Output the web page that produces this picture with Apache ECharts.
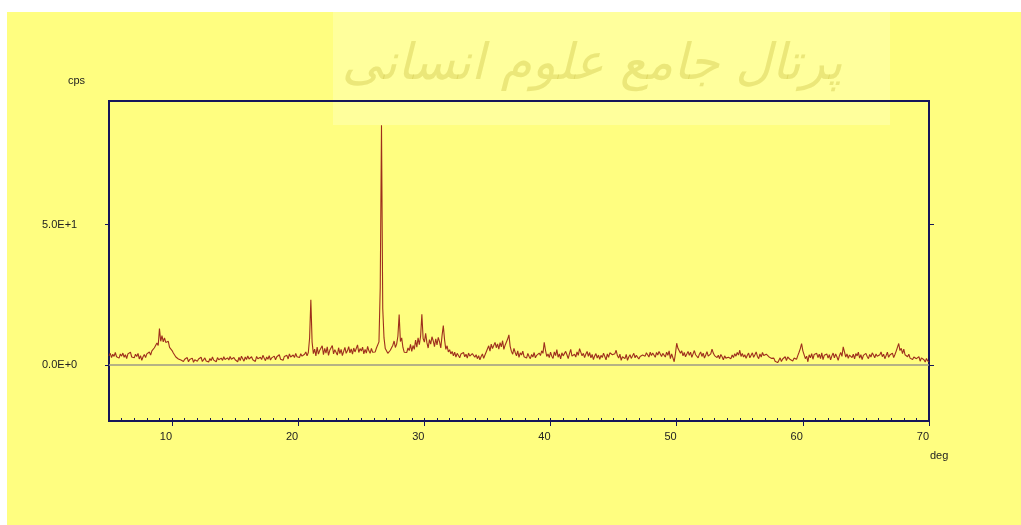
<!DOCTYPE html>
<html>
<head>
<meta charset="utf-8">
<title>XRD pattern</title>
<script src="https://cdn.jsdelivr.net/npm/echarts@6/dist/echarts.min.js"></script>
<style>
  html, body { margin: 0; padding: 0; background: #ffffff; }
  #chart { width: 1021px; height: 525px; }
</style>
</head>
<body>
<div id="chart"></div>
<script>
// Scan range (2-theta, degrees) and step of the diffractogram
const scanStart = 5.0;
const scanStep = 0.1;

// Intensity in cps, one value per step, rows of one degree (x.0 .. x.9)
const cps = [
  3.2,4.1,2.6,3.8,3.0,4.4,2.9,3.5,2.4,3.9,   // 5
  3.1,4.2,2.7,3.6,2.2,3.9,3.3,4.5,2.8,3.4,   // 6
  2.5,3.8,3.0,4.1,2.1,3.3,1.6,2.9,3.7,2.6,   // 7
  3.9,3.2,4.6,3.5,5.0,4.4,6.1,5.6,7.8,6.9,   // 8
  12.9,8.4,10.4,8.2,9.6,8.0,7.3,8.4,6.2,5.6, // 9
  5.1,4.2,3.9,2.8,3.3,2.1,2.6,1.7,2.3,1.2,   // 10
  2.0,1.4,2.6,1.1,1.9,1.5,2.4,0.9,1.8,2.2,   // 11
  1.3,2.1,1.6,2.7,1.2,1.9,2.5,1.4,2.0,1.0,   // 12
  2.3,1.5,2.8,1.7,2.2,1.1,2.6,1.8,1.3,2.4,   // 13
  1.6,2.9,1.9,1.2,2.5,1.7,3.0,2.0,1.4,2.6,   // 14
  1.8,2.3,1.1,2.7,1.5,3.1,2.2,1.3,2.8,1.9,   // 15
  3.2,2.1,1.4,2.9,1.8,2.5,1.2,3.0,2.2,1.6,   // 16
  2.7,1.9,3.4,2.4,1.5,2.8,2.0,3.3,1.7,2.5,   // 17
  2.2,3.1,1.8,2.9,2.4,3.6,2.0,2.7,1.6,3.0,   // 18
  2.5,3.4,2.1,3.9,2.8,2.3,3.5,2.6,4.1,2.9,   // 19
  3.3,2.6,4.0,3.1,2.4,3.8,4.6,3.2,4.4,9.5,   // 20
  23.2,8.1,4.0,5.6,3.2,6.3,3.8,5.1,4.4,6.8,  // 21
  3.6,5.9,4.2,6.4,3.4,5.2,4.5,6.9,3.9,5.4,   // 22
  4.7,3.5,6.1,4.0,5.5,3.3,4.8,6.2,4.1,5.0,   // 23
  6.5,4.3,5.7,3.8,6.0,4.6,5.3,7.1,4.4,5.8,   // 24
  4.9,6.3,3.9,5.5,4.2,6.6,5.0,4.1,5.9,4.5,   // 25
  5.2,4.6,6.0,5.4,8.2,27.5,85.4,20.0,9.6,5.8, // 26
  6.4,4.1,3.8,5.2,4.6,7.0,8.5,6.2,7.4,10.2,  // 27
  17.9,8.3,9.6,6.2,4.5,3.9,4.4,6.0,5.1,7.3,  // 28
  4.8,6.9,5.5,8.8,6.3,9.6,7.2,10.2,18.0,9.4, // 29
  8.1,11.2,7.9,6.0,9.0,7.4,10.0,8.6,6.5,9.3, // 30
  7.1,9.8,8.3,6.0,10.4,14.0,8.9,5.5,6.8,4.6, // 31
  5.4,3.9,4.8,3.2,4.5,2.8,4.1,3.6,2.5,3.9,   // 32
  3.3,4.4,2.9,3.8,2.4,4.2,3.1,2.6,4.0,3.4,   // 33
  2.7,3.6,2.2,3.3,1.8,3.0,3.9,2.3,3.5,4.6,   // 34
  5.3,6.8,4.9,7.4,5.8,6.5,8.0,6.1,7.5,5.6,   // 35
  7.9,6.4,8.6,5.5,7.0,6.3,9.2,10.7,6.6,4.8,  // 36
  3.8,5.9,4.4,3.2,5.0,2.7,4.3,3.5,4.9,2.9,   // 37
  3.6,2.4,4.1,3.0,2.2,3.7,2.8,4.4,2.5,3.4,   // 38
  2.9,4.2,3.3,5.0,4.1,8.0,5.2,3.0,3.9,2.6,   // 39
  4.5,3.1,2.3,4.6,3.3,5.4,2.7,3.9,2.1,4.3,   // 40
  3.2,2.5,4.8,3.6,2.2,4.0,5.5,3.1,2.4,3.8,   // 41
  2.8,4.6,3.4,5.8,5.4,3.2,4.1,2.6,3.9,4.8,   // 42
  3.0,4.4,2.5,3.7,1.9,3.2,4.0,2.4,3.5,2.0,   // 43
  3.4,2.6,4.2,3.0,1.8,3.9,2.7,4.3,5.0,3.6,   // 44
  2.9,4.0,5.2,3.3,2.4,3.8,1.6,2.9,3.5,2.2,   // 45
  3.7,1.6,2.8,3.6,2.3,3.2,4.1,2.5,3.4,2.9,   // 46
  2.1,3.0,2.6,3.5,4.0,3.1,4.3,3.7,2.8,4.5,   // 47
  3.3,4.2,3.6,2.7,4.4,3.5,4.8,3.9,3.0,4.1,   // 48
  3.6,2.8,4.5,3.4,5.0,2.2,3.9,4.6,1.1,4.0,   // 49
  7.7,5.9,6.3,4.1,5.0,3.2,4.4,2.9,3.6,4.8,   // 50
  3.4,4.5,2.7,3.9,5.1,3.6,4.3,2.5,3.8,4.6,   // 51
  3.0,4.2,2.4,3.5,4.7,3.1,2.6,3.9,5.6,4.2,   // 52
  3.3,4.0,2.6,3.4,2.2,3.7,2.9,1.8,3.2,2.4,   // 53
  1.9,2.7,3.3,2.2,3.5,2.6,4.0,3.1,4.4,3.5,   // 54
  5.2,3.0,4.1,2.8,3.6,2.3,3.4,4.2,2.5,3.1,   // 55
  4.3,2.7,3.6,4.6,3.0,2.2,3.9,2.8,4.4,3.3,   // 56
  2.6,3.8,4.5,2.9,3.4,2.3,1.7,2.4,1.3,2.0,   // 57
  0.8,1.6,2.5,1.2,2.1,1.7,2.9,1.5,2.8,2.2,   // 58
  1.9,2.6,1.4,2.4,3.0,2.0,3.3,4.5,5.8,7.6,   // 59
  5.0,4.8,2.2,3.1,1.1,3.6,2.5,4.0,2.0,3.7,   // 60
  3.0,4.1,2.6,3.8,2.2,4.3,1.9,3.4,2.7,3.9,   // 61
  2.4,3.6,1.8,3.2,4.2,2.5,3.9,2.9,1.6,3.3,   // 62
  4.4,3.0,6.4,4.6,2.8,3.9,2.3,3.5,4.2,2.6,   // 63
  3.8,2.1,4.0,3.2,4.5,2.4,3.6,1.9,3.4,2.7,   // 64
  4.1,3.0,2.2,3.7,2.8,4.3,3.5,2.5,3.9,3.1,   // 65
  2.4,3.6,4.6,2.9,3.8,2.2,3.3,4.5,2.7,3.5,   // 66
  3.2,4.2,2.6,3.7,4.9,5.6,7.6,5.1,5.9,4.0,   // 67
  5.6,3.6,4.3,2.9,3.8,2.4,3.1,1.9,2.8,3.4,   // 68
  2.2,1.6,2.9,1.3,2.5,3.1,1.8,1.0,2.3,1.4,   // 69
  1.2                                         // 70
];

// Axis tick labels
const degTicks = [10, 20, 30, 40, 50, 60, 70];
const cpsTicks = [0, 50];
const cpsTickText = { 0: '0.0E+0', 50: '5.0E+1' };

const points = cps.map((v, i) => [+(scanStart + i * scanStep).toFixed(1), v]);

const frame = '#15155a';
const paper = '#fffe80';
const font = '"Liberation Sans", Arial, sans-serif';

const chart = echarts.init(document.getElementById('chart'), null, { renderer: 'canvas' });

chart.setOption({
  backgroundColor: '#ffffff',
  animation: false,
  graphic: [
    { type: 'rect', z: -100, shape: { x: 7, y: 12, width: 1014, height: 513 }, style: { fill: paper } },
    { type: 'rect', z: -99, shape: { x: 333, y: 12, width: 557, height: 113 }, style: { fill: '#ffff9c' } },
    {
      type: 'text', z: -98, x: 592, y: 66,
      style: {
        text: 'پرتال جامع علوم انسانی',
        font: 'italic 50px "DejaVu Sans", sans-serif',
        fill: 'rgba(205,195,70,0.4)',
        align: 'center', verticalAlign: 'middle'
      }
    },
    { type: 'text', x: 68, y: 81, style: { text: 'cps', font: '11px ' + font, fill: '#222', verticalAlign: 'middle' } },
    { type: 'text', x: 930, y: 456, style: { text: 'deg', font: '11px ' + font, fill: '#222', verticalAlign: 'middle' } }
  ],
  grid: {
    left: 109, top: 101, right: 92, bottom: 104,
    show: true, borderColor: frame, borderWidth: 2, backgroundColor: 'transparent'
  },
  xAxis: [
    {
      type: 'value', min: 5, max: 70, interval: 1,
      axisLine: { show: false, onZero: false },
      splitLine: { show: false },
      axisTick: { show: true, inside: true, length: 3, lineStyle: { color: frame, width: 1 } },
      axisLabel: {
        customValues: degTicks, align: 'right', margin: 10,
        color: '#222', fontFamily: font, fontSize: 11
      }
    },
    {
      type: 'value', min: 5, max: 70, position: 'bottom',
      axisLine: { show: false, onZero: false },
      splitLine: { show: false },
      axisTick: { show: true, customValues: degTicks, length: 5, lineStyle: { color: frame, width: 1 } },
      axisLabel: { show: false }
    }
  ],
  yAxis: [
    {
      type: 'value', min: -20, max: 94,
      axisLine: { show: false, onZero: false },
      splitLine: { show: false },
      axisTick: { show: true, customValues: cpsTicks, length: 4, lineStyle: { color: frame, width: 1 } },
      axisLabel: {
        customValues: cpsTicks, align: 'left', margin: 67,
        color: '#222', fontFamily: font, fontSize: 11,
        formatter: v => cpsTickText[v]
      }
    },
    {
      type: 'value', min: -20, max: 94, position: 'right',
      axisLine: { show: false, onZero: false },
      splitLine: { show: false },
      axisTick: { show: true, customValues: cpsTicks, length: 5, lineStyle: { color: frame, width: 1 } },
      axisLabel: { show: false }
    }
  ],
  series: [
    {
      type: 'line',
      data: points,
      xAxisIndex: 0, yAxisIndex: 0,
      showSymbol: false,
      lineStyle: { color: '#9e2f1c', width: 1.1 },
      markLine: {
        silent: true, symbol: 'none', label: { show: false },
        lineStyle: { color: '#9c9a86', width: 1.5, type: 'solid' },
        data: [{ yAxis: 0 }]
      },
      z: 3
    }
  ]
});
</script>
</body>
</html>
